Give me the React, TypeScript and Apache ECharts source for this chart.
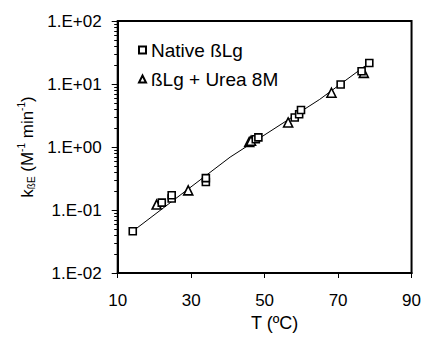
import React, { useEffect, useRef } from "react";
import * as echarts from "echarts";

// Native ßLg (squares)
const tempNative = [14.1, 22.0, 24.7, 24.7, 34.0, 34.0, 47.6, 48.3, 58.2, 59.4, 59.9, 70.7, 76.4, 78.5];
const kNative = [0.046, 0.131, 0.152, 0.171, 0.278, 0.321, 1.33, 1.42, 2.94, 3.31, 3.87, 9.8, 15.9, 21.6];

// ßLg + Urea 8M (triangles)
const tempUrea = [20.6, 29.2, 45.8, 46.3, 56.4, 68.2, 77.0];
const kUrea = [0.122, 0.205, 1.2, 1.26, 2.45, 7.26, 15.0];

// fitted trend line
const fitT = [14.1, 40.6, 65.0, 78.5];
const fitK = [0.046, 0.69, 5.7, 21.6];

const xTicks = [10, 30, 50, 70, 90];
const yMajorTicks = [0.01, 0.1, 1, 10, 100];
const yTickLabels = ["1.E-02", "1.E-01", "1.E+00", "1.E+01", "1.E+02"];
const yMinorTicks = [
  0.02, 0.03, 0.04, 0.05, 0.06, 0.07, 0.08, 0.09,
  0.2, 0.3, 0.4, 0.5, 0.6, 0.7, 0.8, 0.9,
  2, 3, 4, 5, 6, 7, 8, 9,
  20, 30, 40, 50, 60, 70, 80, 90,
];

const FONT = "Liberation Sans, Arial, sans-serif";

export default function App() {
  const ref = useRef<HTMLDivElement>(null);
  useEffect(() => {
    if (!ref.current) return;
    const chart = echarts.init(ref.current, null, { renderer: "svg" });
    const pair = (xs: number[], ys: number[]) => xs.map((x, i) => [x, ys[i]]);
    const logMin = Math.log10(yMajorTicks[0]);
    const logMax = Math.log10(yMajorTicks[yMajorTicks.length - 1]);
    chart.setOption({
      animation: false,
      backgroundColor: "#fff",
      textStyle: { fontFamily: FONT, color: "#000" },
      grid: {
        left: 117.7,
        right: 12.3,
        top: 21,
        bottom: 62,
        show: true,
        borderColor: "#000",
        borderWidth: 2,
        backgroundColor: "transparent",
      },
      legend: {
        orient: "vertical",
        left: 133,
        top: 35,
        itemWidth: 7,
        itemHeight: 7,
        itemGap: 9,
        data: ["Native ßLg", "ßLg + Urea 8M"],
        textStyle: { fontFamily: FONT, fontSize: 19, color: "#000", lineHeight: 20 },
      },
      xAxis: {
        type: "value",
        min: xTicks[0],
        max: xTicks[xTicks.length - 1],
        interval: 20,
        name: "T (ºC)",
        nameLocation: "middle",
        nameGap: 41,
        nameTextStyle: { fontFamily: FONT, fontSize: 18, color: "#000", padding: [0, 0, 0, 20] },
        axisLine: { show: true, onZero: false, lineStyle: { color: "#000", width: 2 } },
        axisTick: { show: true, inside: false, length: 5, lineStyle: { color: "#000", width: 1 } },
        axisLabel: { fontFamily: FONT, fontSize: 17, color: "#000", margin: 19 },
        splitLine: { show: false },
      },
      yAxis: [
        {
          type: "log",
          logBase: 10,
          min: yMajorTicks[0],
          max: yMajorTicks[yMajorTicks.length - 1],
          name: "{k|k}{sub|ßE}{n| (M}{sup|-1}{n| min}{sup|-1}{n|)}",
          nameLocation: "middle",
          nameRotate: 90,
          nameGap: 80,
          nameTextStyle: {
            fontFamily: FONT,
            color: "#000",
            rich: {
              k: { fontFamily: FONT, fontSize: 17, color: "#000", verticalAlign: "bottom", lineHeight: 20 },
              n: { fontFamily: FONT, fontSize: 17, color: "#000", verticalAlign: "bottom", lineHeight: 20 },
              sub: { fontFamily: FONT, fontSize: 10, color: "#000", verticalAlign: "bottom", lineHeight: 18 },
              sup: { fontFamily: FONT, fontSize: 10, color: "#000", verticalAlign: "top", lineHeight: 20 },
            },
          },
          axisLine: { show: true, onZero: false, lineStyle: { color: "#000", width: 2 } },
          axisTick: { show: true, inside: false, length: 6, lineStyle: { color: "#000", width: 1 } },
          axisLabel: {
            fontFamily: FONT,
            fontSize: 17,
            color: "#000",
            margin: 16,
            formatter: (v: number) => {
              const i = yMajorTicks.findIndex((t) => Math.abs(Math.log10(t) - Math.log10(v)) < 1e-6);
              return i >= 0 ? yTickLabels[i] : "";
            },
          },
          splitLine: { show: false },
          minorTick: { show: false },
        },
        {
          // helper axis in log10 space, only to draw the log-spaced minor ticks
          type: "value",
          min: logMin,
          max: logMax,
          position: "left",
          axisLine: { show: false },
          axisLabel: { show: false },
          axisTick: {
            show: true,
            inside: false,
            length: 3.5,
            customValues: yMinorTicks.map((v) => Math.log10(v)),
            lineStyle: { color: "#000", width: 1 },
          },
          splitLine: { show: false },
        },
      ],
      series: [
        {
          name: "fit",
          type: "line",
          data: pair(fitT, fitK),
          symbol: "none",
          lineStyle: { color: "#000", width: 1 },
          z: 1,
          silent: true,
        },
        {
          name: "Native ßLg",
          type: "scatter",
          data: pair(tempNative, kNative),
          symbol: "rect",
          symbolSize: 7,
          itemStyle: { color: "#fff", borderColor: "#000", borderWidth: 1.6, opacity: 1 },
          z: 3,
        },
        {
          name: "ßLg + Urea 8M",
          type: "scatter",
          data: pair(tempUrea, kUrea),
          symbol: "triangle",
          symbolSize: 9,
          itemStyle: { color: "#fff", borderColor: "#000", borderWidth: 1.6, opacity: 1 },
          z: 2,
        },
      ],
    });
    return () => chart.dispose();
  }, []);
  return (
    <div
      ref={ref}
      style={{ position: "fixed", left: 0, top: 0, width: 424, height: 337, background: "#fff" }}
    />
  );
}
